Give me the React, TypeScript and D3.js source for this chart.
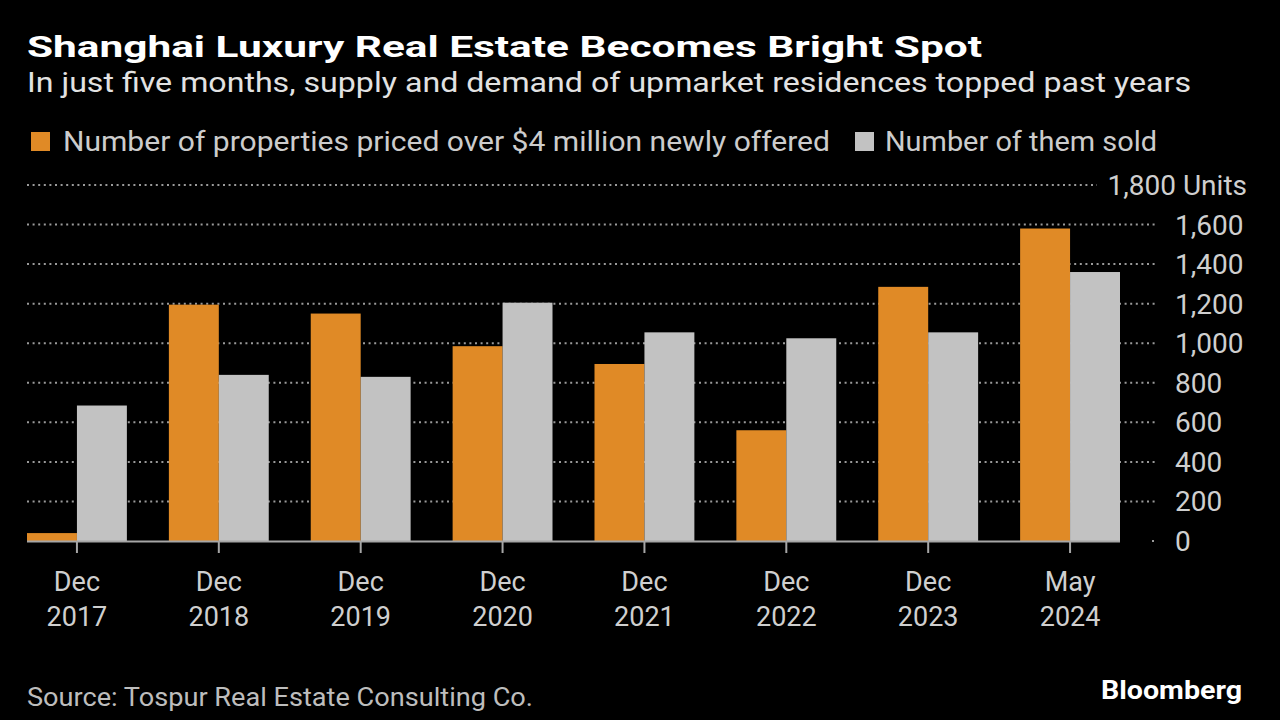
import React from "react";
import * as d3 from "d3";

const categories = ["Dec|2017", "Dec|2018", "Dec|2019", "Dec|2020", "Dec|2021", "Dec|2022", "Dec|2023", "May|2024"];
const offered = [40, 1195, 1150, 985, 895, 560, 1285, 1580];
const sold = [685, 840, 830, 1205, 1055, 1025, 1055, 1360];
const yTicks = [0, 200, 400, 600, 800, 1000, 1200, 1400, 1600, 1800];
const seriesNames = ["Number of properties priced over $4 million newly offered", "Number of them sold"];
const seriesKeys = ["offered", "sold"];

const ORANGE = "#E08A26";
const GRAY = "#C2C2C2";
const FONT = "Roboto, 'Open Sans', sans-serif";

export default function App() {
  const W = 1280, H = 720;
  const x0 = d3.scaleBand<string>().domain(categories).range([27, 1120]).paddingInner(0.296).paddingOuter(0);
  const x1 = d3.scaleBand<string>().domain(seriesKeys).range([0, x0.bandwidth()]).padding(0);
  const y = d3.scaleLinear().domain([0, 1800]).range([541, 185]);
  const fmt = d3.format(",");
  const colors: Record<string, string> = { offered: ORANGE, sold: GRAY };
  const data = categories.map((c, i) => ({ c, offered: offered[i], sold: sold[i] }));

  return (
    <div style={{ position: "fixed", left: 0, top: 0, width: W, height: H, background: "#000" }}>
      <svg width={W} height={H} style={{ display: "block", background: "#000" }} fontFamily={FONT}>
        <rect x={0} y={0} width={W} height={H} fill="#000" />
        <text x={27} y={57} fill="#ffffff" fontSize={30} fontWeight="bold" textLength={955} lengthAdjust="spacingAndGlyphs">
          Shanghai Luxury Real Estate Becomes Bright Spot
        </text>
        <text x={27} y={92} fill="#e2e2e2" fontSize={28} textLength={1164} lengthAdjust="spacingAndGlyphs">
          In just five months, supply and demand of upmarket residences topped past years
        </text>
        {/* legend */}
        <rect x={31} y={132} width={19} height={19} fill={ORANGE} />
        <text x={63} y={151} fill="#cccccc" fontSize={28} textLength={767} lengthAdjust="spacingAndGlyphs">
          {seriesNames[0]}
        </text>
        <rect x={855} y={132} width={19} height={19} fill={GRAY} />
        <text x={885} y={151} fill="#cccccc" fontSize={28} textLength={272} lengthAdjust="spacingAndGlyphs">
          {seriesNames[1]}
        </text>

        {/* gridlines */}
        {yTicks.filter((t) => t !== 0).map((t) => (
          <line
            key={"g" + t}
            x1={27}
            x2={t === 1800 ? 1097 : 1156}
            y1={y(t)}
            y2={y(t)}
            stroke="#9a9a9a"
            strokeWidth={2}
            strokeDasharray="2,3.6"
          />
        ))}
        <line x1={1152} x2={1154} y1={y(0)} y2={y(0)} stroke="#9a9a9a" strokeWidth={2} />
        {/* y labels */}
        {yTicks.map((t) =>
          t === 1800 ? (
            <text key={"l" + t} x={1247} y={y(t) + 10} fill="#cfcfcf" fontSize={28} textAnchor="end">
              {fmt(t)} Units
            </text>
          ) : (
            <text key={"l" + t} x={1175} y={y(t) + 10} fill="#cfcfcf" fontSize={28}>
              {fmt(t)}
            </text>
          )
        )}

        {/* bars */}
        {data.map((d) => (
          <g key={d.c} transform={`translate(${x0(d.c)},0)`}>
            {seriesKeys.map((k) => (
              <rect
                key={k}
                x={x1(k)}
                width={x1.bandwidth()}
                y={y((d as any)[k])}
                height={y(0) - y((d as any)[k])}
                fill={colors[k]}
              />
            ))}
          </g>
        ))}

        {/* x axis */}
        <line x1={27} x2={1120} y1={y(0) + 0.5} y2={y(0) + 0.5} stroke="#a6a6a6" strokeWidth={2} />
        {categories.map((c) => {
          const cx = (x0(c) as number) + x0.bandwidth() / 2;
          const [m, yr] = c.split("|");
          return (
            <g key={"x" + c}>
              <line x1={cx} x2={cx} y1={y(0)} y2={y(0) + 12} stroke="#a6a6a6" strokeWidth={2} />
              <text x={cx} y={591} fill="#cfcfcf" fontSize={27} textAnchor="middle">{m}</text>
              <text x={cx} y={626} fill="#cfcfcf" fontSize={27} textAnchor="middle">{yr}</text>
            </g>
          );
        })}

        <text x={27} y={706} fill="#bdbdbd" fontSize={26} textLength={506} lengthAdjust="spacingAndGlyphs">
          Source: Tospur Real Estate Consulting Co.
        </text>
        <text x={1101} y={699} fill="#ffffff" fontSize={25} fontWeight="bold" textLength={141} lengthAdjust="spacingAndGlyphs">
          Bloomberg
        </text>
      </svg>
    </div>
  );
}
